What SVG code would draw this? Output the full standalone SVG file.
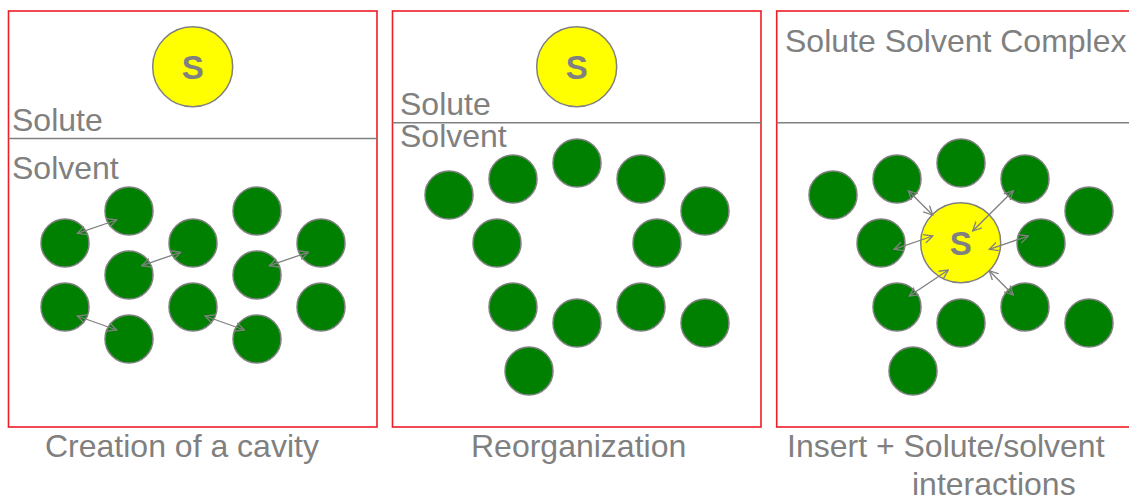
<svg xmlns="http://www.w3.org/2000/svg" width="1129" height="498" viewBox="0 0 1129 498">
<defs>
<style>
.panel{fill:none;stroke:#ee1c25;stroke-width:1.6}
.div{stroke:#808080;stroke-width:1.6}
.w{fill:#008000;stroke:#808080;stroke-width:1.5}
.s{fill:#ffff00;stroke:#808080;stroke-width:1.5}
.t{font-family:"Liberation Sans",Arial,sans-serif;font-size:32px;fill:#808080}
.st{font-family:"Liberation Sans",Arial,sans-serif;font-size:33px;fill:#808080;text-anchor:middle;font-weight:bold}
.a{stroke:#808080;stroke-width:1.3;fill:none;marker-start:url(#ah);marker-end:url(#ah)}
</style>
<marker id="ah" viewBox="0 0 10 10" refX="9" refY="5" markerWidth="10" markerHeight="10" markerUnits="userSpaceOnUse" orient="auto-start-reverse">
<path d="M0,0.5 L9,5 L0,9.5" fill="none" stroke="#808080" stroke-width="1.3"/>
</marker>
</defs>
<rect width="1129" height="498" fill="#fff"/>

<g id="panel1">
<rect class="panel" x="8.5" y="11" width="368.5" height="416"/>
<line class="div" x1="8.5" y1="138.5" x2="377" y2="138.5"/>
<text class="t" x="12" y="131">Solute</text>
<text class="t" x="12" y="179">Solvent</text>
<g id="p1-solute"><circle class="s" cx="192.7" cy="66.7" r="40"/><text class="st" x="192.7" y="78.5">S</text></g>
<g id="p1-solvent">
<circle class="w" cx="65" cy="243" r="24"/>
<circle class="w" cx="129" cy="211" r="24"/>
<circle class="w" cx="129" cy="275" r="24"/>
<circle class="w" cx="193" cy="243" r="24"/>
<circle class="w" cx="257" cy="211" r="24"/>
<circle class="w" cx="257" cy="275" r="24"/>
<circle class="w" cx="321" cy="243" r="24"/>
<circle class="w" cx="65" cy="307" r="24"/>
<circle class="w" cx="129" cy="339" r="24"/>
<circle class="w" cx="193" cy="307" r="24"/>
<circle class="w" cx="257" cy="339" r="24"/>
<circle class="w" cx="321" cy="307" r="24"/>
</g>
</g>

<g id="panel2">
<rect class="panel" x="392.5" y="11" width="368.5" height="416"/>
<line class="div" x1="392.5" y1="122.7" x2="761" y2="122.7"/>
<text class="t" x="400" y="115">Solute</text>
<text class="t" x="400" y="147">Solvent</text>
<g id="p2-solute"><circle class="s" cx="576.7" cy="66.7" r="40"/><text class="st" x="576.7" y="78.5">S</text></g>
<g id="p2-solvent">
<circle class="w" cx="449" cy="195" r="24"/>
<circle class="w" cx="513" cy="179" r="24"/>
<circle class="w" cx="577" cy="163" r="24"/>
<circle class="w" cx="641" cy="179" r="24"/>
<circle class="w" cx="705" cy="211" r="24"/>
<circle class="w" cx="497" cy="243" r="24"/>
<circle class="w" cx="657" cy="243" r="24"/>
<circle class="w" cx="513" cy="307" r="24"/>
<circle class="w" cx="577" cy="323" r="24"/>
<circle class="w" cx="641" cy="307" r="24"/>
<circle class="w" cx="705" cy="323" r="24"/>
<circle class="w" cx="529" cy="371" r="24"/>
</g>
</g>

<g id="panel3">
<rect class="panel" x="776.7" y="11" width="360" height="416"/>
<line class="div" x1="776.7" y1="122.7" x2="1129" y2="122.7"/>
<text class="t" x="785" y="51.5">Solute Solvent Complex</text>
<g id="p3-solvent">
<circle class="w" cx="833" cy="195" r="24"/>
<circle class="w" cx="897" cy="179" r="24"/>
<circle class="w" cx="961" cy="163" r="24"/>
<circle class="w" cx="1025" cy="179" r="24"/>
<circle class="w" cx="1089" cy="211" r="24"/>
<circle class="w" cx="881" cy="243" r="24"/>
<circle class="w" cx="1041" cy="243" r="24"/>
<circle class="w" cx="897" cy="307" r="24"/>
<circle class="w" cx="961" cy="323" r="24"/>
<circle class="w" cx="1025" cy="307" r="24"/>
<circle class="w" cx="1089" cy="323" r="24"/>
<circle class="w" cx="913" cy="371" r="24"/>
</g>
<g id="p3-solute"><circle class="s" cx="960.7" cy="242.7" r="40"/><text class="st" x="960.7" y="254.5">S</text></g>
</g>

<g id="connectors">
<line class="a" x1="77.3" y1="233.3" x2="116.7" y2="220"/>
<line class="a" x1="141.7" y1="265.7" x2="180.7" y2="252.3"/>
<line class="a" x1="269.3" y1="265.7" x2="308.3" y2="252.3"/>
<line class="a" x1="77.3" y1="316" x2="116.7" y2="330"/>
<line class="a" x1="205" y1="316" x2="244.3" y2="330"/>
<line class="a" x1="908.3" y1="190.7" x2="932.7" y2="215"/>
<line class="a" x1="1013.3" y1="190.7" x2="972.7" y2="231"/>
<line class="a" x1="894" y1="249.3" x2="932.7" y2="236"/>
<line class="a" x1="1028.3" y1="236" x2="989.3" y2="249.3"/>
<line class="a" x1="909.3" y1="296" x2="948.3" y2="270"/>
<line class="a" x1="989.3" y1="270.7" x2="1013.3" y2="295"/>
</g>

<g id="captions">
<text class="t" x="45" y="457">Creation of a cavity</text>
<text class="t" x="471" y="457">Reorganization</text>
<text class="t" x="787" y="457">Insert + Solute/solvent</text>
<text class="t" x="912" y="495">interactions</text>
</g>
</svg>
